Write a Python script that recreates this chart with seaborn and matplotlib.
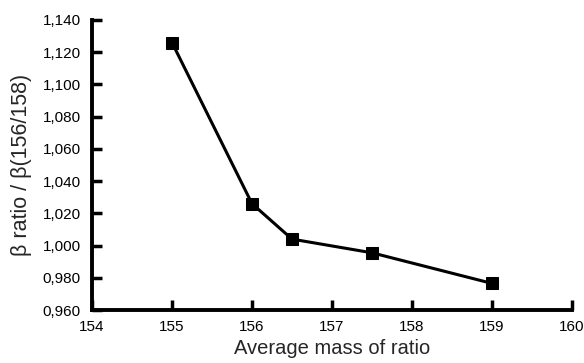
import matplotlib
matplotlib.use("Agg")
import matplotlib.pyplot as plt
import matplotlib.ticker as mticker
import numpy as np
import pandas as pd
import seaborn as sns

# values
mass = [155, 156, 156.5, 157.5, 159]
beta_ratio = [1.126, 1.026, 1.004, 0.9955, 0.9765]

df = pd.DataFrame({"mass": mass, "ratio": beta_ratio})

sns.set_style("ticks")
plt.rcParams['font.family'] = ['Liberation Sans', 'DejaVu Sans']

fig = plt.figure(figsize=(5.84, 3.63), dpi=100)
ax = fig.add_axes([0.1575, 0.146, 0.822, 0.799])

sns.lineplot(data=df, x="mass", y="ratio", ax=ax, color="black", lw=2.2,
             marker="s", markersize=8.5, markeredgecolor="black", markerfacecolor="black")

ax.set_xlim(154, 160)
ax.set_ylim(0.960, 1.140)
ax.set_xticks(np.arange(154, 161, 1))
ax.set_yticks(np.arange(0.960, 1.1401, 0.020))

# decimal comma on the y axis
ax.yaxis.set_major_formatter(mticker.FuncFormatter(lambda v, p: '{0:.3f}'.format(v).replace('.', ',')))

for s in ['top', 'right']:
    ax.spines[s].set_visible(False)
for s in ['left', 'bottom']:
    ax.spines[s].set_linewidth(2.8)
    ax.spines[s].set_color('black')

ax.tick_params(axis='both', direction='in', length=7, width=2.5, labelsize=11, colors='black')
ax.tick_params(axis='y', pad=8)
ax.tick_params(axis='x', pad=7)
ax.set_xlabel('Average mass of ratio', fontsize=14.5, labelpad=4)
ax.set_ylabel('β ratio / β(156/158)', fontsize=15.5, labelpad=8)

fig.savefig("out.png", dpi=100)
